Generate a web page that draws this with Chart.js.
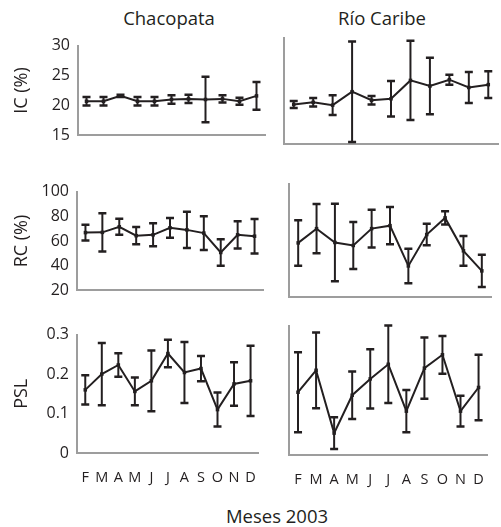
<!DOCTYPE html>
<html>
<head>
<meta charset="utf-8">
<script src="https://cdn.jsdelivr.net/npm/chart.js"></script>
<style>
  body { margin: 0; background: #fff; }
  #wrap { position: relative; width: 501px; height: 527px; background: #fff; font-family: "Open Sans", sans-serif; color: #231f20; }
  #wrap canvas { position: absolute; }
  .lbl { position: absolute; font-size: 18.5px; line-height: 1; white-space: nowrap; transform: translate(-50%, -50%); }
</style>
</head>
<body>
<div id="wrap">
  <div class="lbl" style="left:169px; top:18px;">Chacopata</div>
  <div class="lbl" style="left:382px; top:18px;">Río Caribe</div>
  <div class="lbl" style="left:277px; top:516px;">Meses 2003</div>
</div>
<script>
// meses (feb - dic 2003)
const months = ['F', 'M', 'A', 'M', 'J', 'J', 'A', 'S', 'O', 'N', 'D'];

// IC (%)
const icChacopata = [20.7, 20.7, 21.6, 20.7, 20.7, 21.0, 21.1, 21.0, 21.1, 20.7, 21.6];
const icChacopataErr = [0.7, 0.7, 0.2, 0.7, 0.7, 0.7, 0.7, 3.8, 0.6, 0.6, 2.3];
const icRio = [20.6, 20.9, 20.5, 22.4, 21.2, 21.4, 24.0, 23.2, 24.1, 23.0, 23.4];
const icRioErr = [0.5, 0.6, 1.4, 7.1, 0.6, 2.5, 5.6, 4.0, 0.7, 2.2, 1.9];

// RC (%)
const rcChacopata = [66.8, 67.0, 71.5, 64.3, 65.0, 70.7, 69.0, 66.4, 50.7, 65.0, 63.9];
const rcChacopataErr = [6.4, 15.5, 6.5, 7.0, 9.3, 8.0, 14.7, 13.7, 10.8, 11.0, 14.0];
const rcRio = [58.3, 68.4, 58.6, 56.5, 68.4, 70.5, 42.0, 64.2, 76.0, 52.7, 38.5];
const rcRioErr = [16.1, 17.4, 27.4, 16.6, 13.4, 13.2, 12.2, 7.6, 4.7, 10.5, 11.4];

// PSL
const pslChacopata = [0.160, 0.200, 0.223, 0.156, 0.183, 0.252, 0.204, 0.214, 0.110, 0.175, 0.183];
const pslChacopataErr = [0.037, 0.079, 0.030, 0.035, 0.077, 0.035, 0.077, 0.032, 0.043, 0.055, 0.089];
const pslRio = [0.146, 0.197, 0.051, 0.139, 0.177, 0.211, 0.102, 0.202, 0.233, 0.102, 0.157];
const pslRioErr = [0.093, 0.088, 0.037, 0.055, 0.069, 0.090, 0.049, 0.071, 0.044, 0.036, 0.076];

const INK = '#231f20';
const AXIS = '#9d9d9d';
const FONT = '"Open Sans", sans-serif';

// barras de error dibujadas con la escala y
const errorBars = {
    id: 'errorBars',
    afterDatasetsDraw(chart) {
        const ctx = chart.ctx;
        const yScale = chart.scales.y;
        chart.data.datasets.forEach((ds, i) => {
            const meta = chart.getDatasetMeta(i);
            meta.data.forEach((pt, j) => {
                const v = ds.data[j];
                const e = ds.errors[j];
                const top = yScale.getPixelForValue(v + e);
                const bot = yScale.getPixelForValue(v - e);
                ctx.save();
                ctx.strokeStyle = INK;
                ctx.lineWidth = 2;
                ctx.beginPath();
                ctx.moveTo(pt.x, top);
                ctx.lineTo(pt.x, bot);
                ctx.stroke();
                ctx.lineWidth = 2.5;
                ctx.beginPath();
                ctx.moveTo(pt.x - 4, top);
                ctx.lineTo(pt.x + 4, top);
                ctx.moveTo(pt.x - 4, bot);
                ctx.lineTo(pt.x + 4, bot);
                ctx.stroke();
                ctx.restore();
            });
        });
    }
};

function makePanel(p) {
    const padTop = 10;
    const xAxisH = p.showMonths ? 45 : 0;
    const padBottom = p.showMonths ? 0 : 10;
    const canvasLeft = p.left ? 0 : 272;
    const yWidth = p.plotL - canvasLeft;
    const padRight = 2;
    const width = p.plotR - canvasLeft + padRight;
    const height = padTop + (p.plotB - p.plotT) + xAxisH + padBottom;

    const canvas = document.createElement('canvas');
    canvas.width = width;
    canvas.height = height;
    canvas.style.left = canvasLeft + 'px';
    canvas.style.top = (p.plotT - padTop) + 'px';
    document.getElementById('wrap').appendChild(canvas);

    new Chart(canvas.getContext('2d'), {
        type: 'line',
        data: {
            labels: months,
            datasets: [{
                data: p.values,
                errors: p.errors,
                borderColor: INK,
                borderWidth: 2,
                pointStyle: 'rect',
                pointRadius: 2.5,
                pointBackgroundColor: INK,
                pointBorderColor: INK,
                pointBorderWidth: 0,
                tension: 0,
                clip: false
            }]
        },
        options: {
            responsive: false,
            animation: false,
            devicePixelRatio: 1,
            layout: { padding: { top: padTop, bottom: padBottom, left: 0, right: padRight } },
            plugins: { legend: { display: false }, tooltip: { enabled: false } },
            scales: {
                x: {
                    type: 'category',
                    offset: true,
                    grid: { display: false, drawTicks: false },
                    border: { display: true, color: AXIS, width: 2 },
                    ticks: {
                        display: !!p.showMonths,
                        autoSkip: false,
                        maxRotation: 0,
                        padding: 16,
                        color: INK,
                        font: { family: FONT, size: 14.5 }
                    },
                    afterFit: function(scale) { scale.height = xAxisH; }
                },
                y: {
                    min: p.min,
                    max: p.max,
                    grid: { display: false, drawTicks: false },
                    border: { display: true, color: AXIS, width: 2 },
                    ticks: {
                        display: !!p.left,
                        stepSize: p.step,
                        padding: 8,
                        color: INK,
                        font: { family: FONT, size: 16 }
                    },
                    title: {
                        display: !!p.left,
                        text: p.title || '',
                        color: INK,
                        font: { family: FONT, size: 18 },
                        padding: { top: 11, bottom: 0 }
                    },
                    afterFit: function(scale) { scale.width = yWidth; }
                }
            }
        },
        plugins: [errorBars]
    });
}

makePanel({ left: true, plotL: 78, plotR: 267, plotT: 38, plotB: 143, min: 15, max: 30, step: 5, title: 'IC (%)', values: icChacopata, errors: icChacopataErr });
makePanel({ left: false, plotL: 284, plotR: 500, plotT: 38, plotB: 144, min: 15, max: 30, step: 5, values: icRio, errors: icRioErr });
makePanel({ left: true, plotL: 77, plotR: 265, plotT: 184, plotB: 298, min: 20, max: 100, step: 20, title: 'RC (%)', values: rcChacopata, errors: rcChacopataErr });
makePanel({ left: false, plotL: 289, plotR: 493, plotT: 184, plotB: 297, min: 20, max: 100, step: 20, values: rcRio, errors: rcRioErr });
makePanel({ left: true, plotL: 77, plotR: 270, plotT: 327, plotB: 453, min: 0, max: 0.3, step: 0.1, title: 'PSL', values: pslChacopata, errors: pslChacopataErr, showMonths: true });
makePanel({ left: false, plotL: 289, plotR: 498, plotT: 326, plotB: 455, min: 0, max: 0.3, step: 0.1, values: pslRio, errors: pslRioErr, showMonths: true });
</script>
</body>
</html>
